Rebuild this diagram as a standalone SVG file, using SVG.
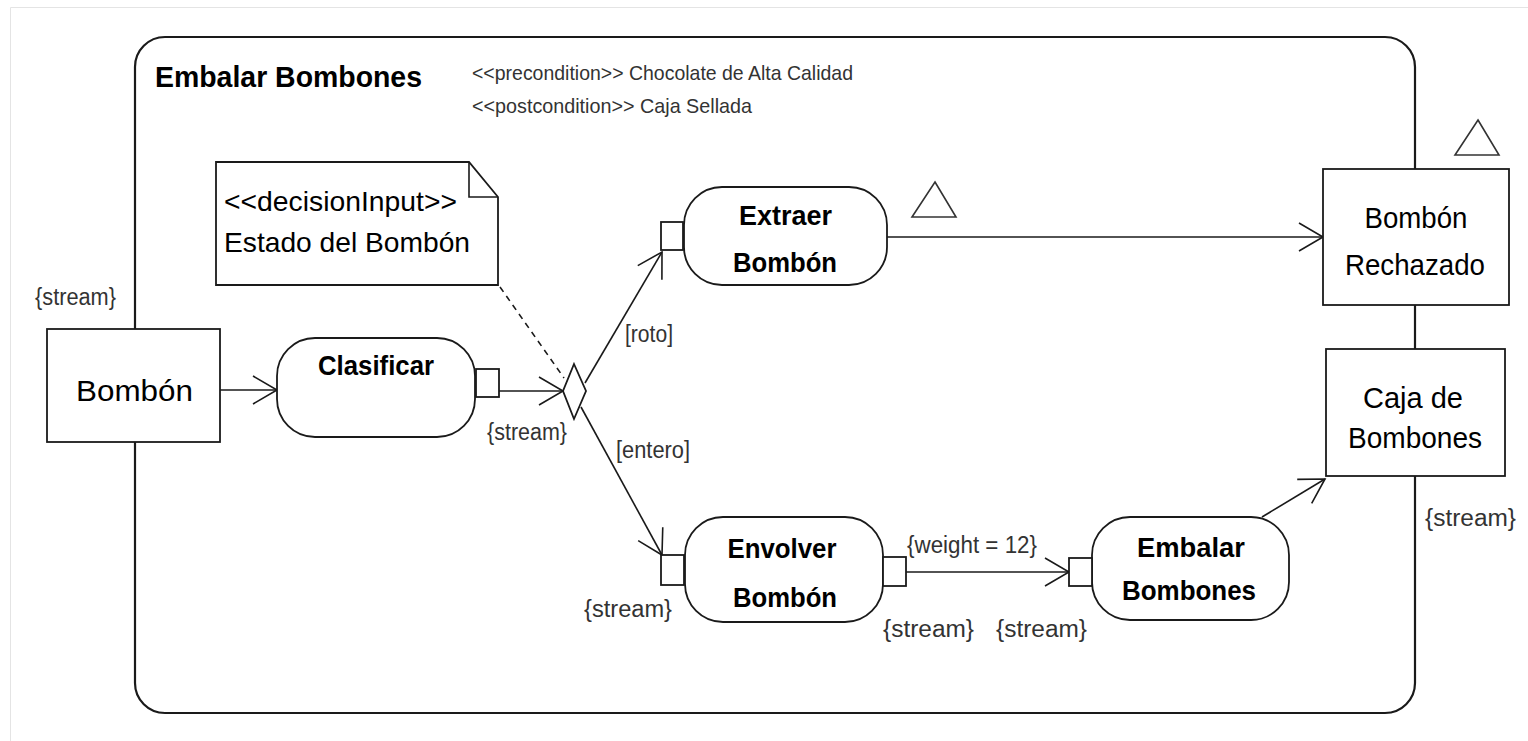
<svg xmlns="http://www.w3.org/2000/svg" width="1528" height="741" viewBox="0 0 1528 741">
<style>
  .shape { fill: #ffffff; stroke: #1a1a1a; stroke-width: 1.8; }
  .frame { fill: #ffffff; stroke: #1a1a1a; stroke-width: 2.2; }
  .edge { fill: none; stroke: #1a1a1a; stroke-width: 1.6; }
  .dash { fill: none; stroke: #1a1a1a; stroke-width: 1.6; stroke-dasharray: 6 5; }
  .tri { fill: none; stroke: #333333; stroke-width: 1.6; }
  .act { font-family: "Liberation Sans", Arial, sans-serif; font-weight: bold; font-size: 27px; fill: #000; text-anchor: middle; }
  .obj { font-family: "Liberation Sans", Arial, sans-serif; font-size: 29px; fill: #000; text-anchor: middle; }
  .lbl { font-family: "Liberation Sans", Arial, sans-serif; font-size: 23px; fill: #333; }
  .cond { font-family: "Liberation Sans", Arial, sans-serif; font-size: 21px; fill: #333; }
  .note { font-family: "Liberation Sans", Arial, sans-serif; font-size: 28px; fill: #000; }
</style>
<defs>
  <marker id="open" markerUnits="userSpaceOnUse" viewBox="-26 -17 28 34" refX="0" refY="0" markerWidth="28" markerHeight="34" orient="auto" overflow="visible">
    <path d="M-24,-14 L0,0 L-24,14" fill="none" stroke="#1a1a1a" stroke-width="1.6"/>
  </marker>
</defs>
<rect x="0" y="0" width="1528" height="741" fill="#ffffff"/>
<path d="M10.5,741 L10.5,7.5 L1528,7.5" fill="none" stroke="#e4e4e4" stroke-width="1"/>

<g id="frame">
  <rect class="frame" x="135" y="37" width="1280" height="676" rx="30"/>
  <text x="155" y="87" font-family="Liberation Sans, Arial, sans-serif" font-weight="bold" font-size="29" textLength="267" lengthAdjust="spacingAndGlyphs">Embalar Bombones</text>
  <text class="cond" x="472" y="80" textLength="381" lengthAdjust="spacingAndGlyphs">&lt;&lt;precondition&gt;&gt; Chocolate de Alta Calidad</text>
  <text class="cond" x="472" y="113" textLength="280" lengthAdjust="spacingAndGlyphs">&lt;&lt;postcondition&gt;&gt; Caja Sellada</text>
</g>

<g id="connectors">
  <line class="edge" x1="220" y1="390" x2="277" y2="390" marker-end="url(#open)"/>
  <line class="edge" x1="499" y1="391" x2="563" y2="391" marker-end="url(#open)"/>
  <line class="edge" x1="585" y1="383" x2="662" y2="252" marker-end="url(#open)"/>
  <line class="edge" x1="581" y1="407" x2="662" y2="555" marker-end="url(#open)"/>
  <line class="dash" x1="500" y1="287" x2="564" y2="378"/>
  <line class="edge" x1="887" y1="237" x2="1323" y2="237" marker-end="url(#open)"/>
  <line class="edge" x1="906" y1="572" x2="1069" y2="572" marker-end="url(#open)"/>
  <line class="edge" x1="1262" y1="517" x2="1325" y2="479" marker-end="url(#open)"/>
  <text class="lbl" x="625" y="342" textLength="48" lengthAdjust="spacingAndGlyphs">[roto]</text>
  <text class="lbl" x="616" y="458" textLength="74" lengthAdjust="spacingAndGlyphs">[entero]</text>
  <text class="lbl" x="907" y="553" textLength="130" lengthAdjust="spacingAndGlyphs">{weight = 12}</text>
</g>

<g id="bombon-input">
  <rect class="shape" x="47" y="329" width="173" height="113"/>
  <text class="obj" x="134.5" y="401" font-size="33" textLength="117" lengthAdjust="spacingAndGlyphs">Bombón</text>
  <text class="lbl" x="35" y="305" textLength="81" lengthAdjust="spacingAndGlyphs">{stream}</text>
</g>

<g id="note-decision">
  <path class="shape" d="M216,162 L469,162 L498,197 L498,285 L216,285 Z"/>
  <path class="edge" d="M469,162 L469,197 L498,197"/>
  <text class="note" x="224" y="211" textLength="233" lengthAdjust="spacingAndGlyphs">&lt;&lt;decisionInput&gt;&gt;</text>
  <text class="note" x="224" y="252" textLength="246" lengthAdjust="spacingAndGlyphs">Estado del Bombón</text>
</g>

<g id="clasificar">
  <rect class="shape" x="277" y="338" width="198" height="99" rx="38"/>
  <text class="act" x="376" y="375" textLength="116" lengthAdjust="spacingAndGlyphs">Clasificar</text>
  <rect class="shape" x="476" y="369" width="23" height="28"/>
  <text class="lbl" x="487" y="440" textLength="80" lengthAdjust="spacingAndGlyphs">{stream}</text>
</g>

<g id="decision">
  <polygon class="shape" points="574,364 586,391 574,419 563,391"/>
</g>

<g id="extraer">
  <rect class="shape" x="684" y="187" width="203" height="98" rx="38"/>
  <text class="act" x="785.5" y="225" textLength="93" lengthAdjust="spacingAndGlyphs">Extraer</text>
  <text class="act" x="785" y="272" textLength="104" lengthAdjust="spacingAndGlyphs">Bombón</text>
  <rect class="shape" x="661" y="222" width="22" height="28"/>
  <polygon class="tri" points="935,182 956,217 912,217"/>
</g>

<g id="envolver">
  <rect class="shape" x="685" y="517" width="198" height="105" rx="38"/>
  <text class="act" x="782" y="558" textLength="109" lengthAdjust="spacingAndGlyphs">Envolver</text>
  <text class="act" x="785" y="607" textLength="104" lengthAdjust="spacingAndGlyphs">Bombón</text>
  <rect class="shape" x="661" y="555" width="23" height="30"/>
  <rect class="shape" x="883" y="557" width="23" height="29"/>
  <text class="lbl" x="584" y="617" textLength="88" lengthAdjust="spacingAndGlyphs">{stream}</text>
  <text class="lbl" x="883" y="637" textLength="91" lengthAdjust="spacingAndGlyphs">{stream}</text>
</g>

<g id="embalar">
  <rect class="shape" x="1092" y="517" width="197" height="103" rx="38"/>
  <text class="act" x="1191" y="557" textLength="108" lengthAdjust="spacingAndGlyphs">Embalar</text>
  <text class="act" x="1189" y="600" textLength="134" lengthAdjust="spacingAndGlyphs">Bombones</text>
  <rect class="shape" x="1069" y="558" width="23" height="28"/>
  <text class="lbl" x="996" y="637" textLength="91" lengthAdjust="spacingAndGlyphs">{stream}</text>
</g>

<g id="bombon-rechazado">
  <rect class="shape" x="1323" y="169" width="186" height="136"/>
  <text class="obj" x="1416" y="228" textLength="103" lengthAdjust="spacingAndGlyphs">Bombón</text>
  <text class="obj" x="1415" y="275" textLength="140" lengthAdjust="spacingAndGlyphs">Rechazado</text>
  <polygon class="tri" points="1478,120 1499,155 1455,155"/>
</g>

<g id="caja-bombones">
  <rect class="shape" x="1326" y="349" width="179" height="127"/>
  <text class="obj" x="1413" y="408" textLength="100" lengthAdjust="spacingAndGlyphs">Caja de</text>
  <text class="obj" x="1415" y="448" textLength="134" lengthAdjust="spacingAndGlyphs">Bombones</text>
  <text class="lbl" x="1425" y="526" textLength="91" lengthAdjust="spacingAndGlyphs">{stream}</text>
</g>
</svg>
